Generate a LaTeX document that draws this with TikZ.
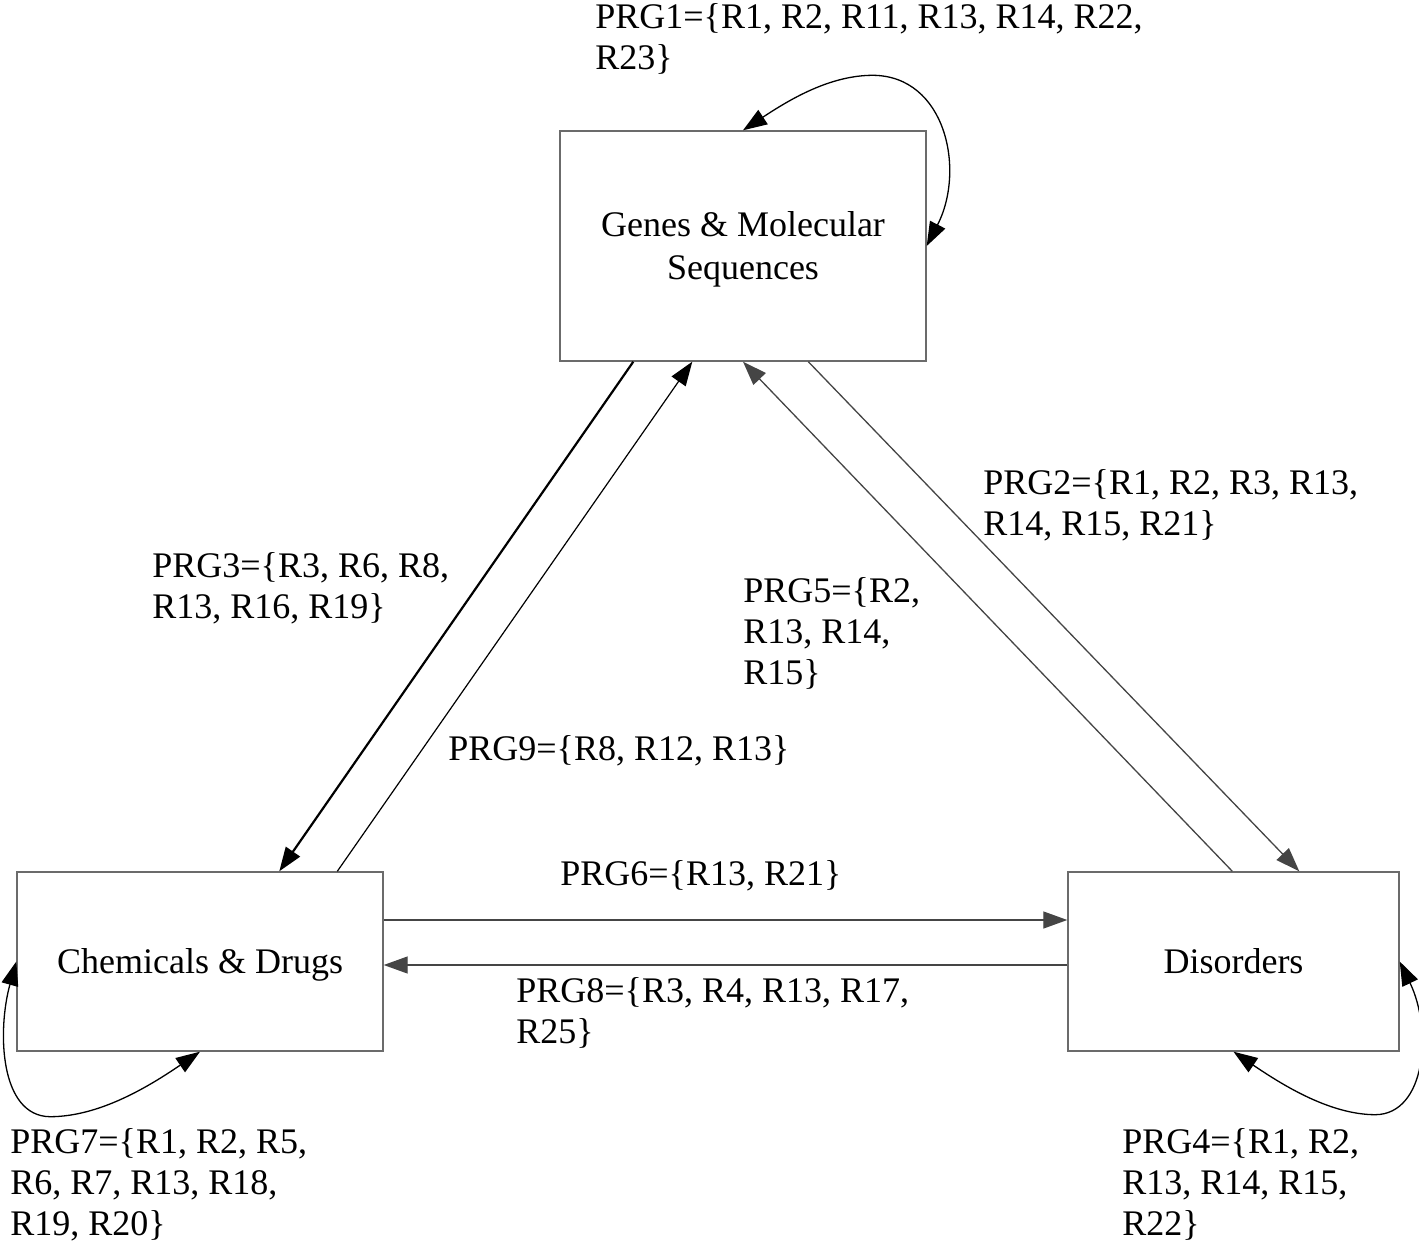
\documentclass[tikz,border=0pt]{standalone}
\usepackage{fontspec}
\setmainfont{Liberation Serif}
\usetikzlibrary{arrows.meta,calc}
\definecolor{boxgray}{gray}{0.42}
\definecolor{arrgray}{gray}{0.27}
\begin{document}
\begin{tikzpicture}[x=0.5pt,y=-0.5pt,
  font=\fontsize{18}{20.5}\selectfont,
  box/.style={draw=boxgray, line width=0.7pt, inner sep=0pt, align=center, text depth=0pt,
    font=\fontsize{18}{21.5}\selectfont},
  lbl/.style={anchor=north west, inner sep=0pt, align=left},
  tipend/.style={-{Triangle[length=12pt,width=8.5pt]}},
  tipboth/.style={{Triangle[length=12pt,width=8.5pt]}-{Triangle[length=12pt,width=8.5pt]}},
  grayarr/.style={tipend, draw=arrgray, fill=arrgray, line width=0.65pt},
  thickarr/.style={tipend, draw=black, line width=1.1pt},
  thinarr/.style={tipend, draw=black, line width=0.6pt},
  looparr/.style={tipboth, draw=black, line width=0.65pt}]
\useasboundingbox (0,0) rectangle (1419,1246);

% boxes
\node[box, minimum width=183pt, minimum height=115pt] (genes) at (743,246) {Genes \& Molecular\\Sequences};
\node[box, minimum width=183pt, minimum height=89.5pt] (chem) at (200,961.5) {Chemicals \& Drugs};
\node[box, minimum width=165.5pt, minimum height=89.5pt] (dis) at (1233.5,961.5) {Disorders};

% straight connectors
\draw[thickarr] ($(genes.south west)+(74,0)$) -- ($(chem.north west)+(263,0)$);
\draw[thinarr] ($(chem.north west)+(321,0)$) -- ($(genes.south west)+(133,0)$);
\draw[grayarr] ($(dis.north west)+(165,0)$) -- (genes.south);
\draw[grayarr] ($(genes.south west)+(249,0)$) -- ($(dis.north west)+(232,0)$);
\draw[grayarr] ($(chem.east)+(0,-41.5)$) -- ($(dis.west)+(0,-41.5)$);
\draw[grayarr] ($(dis.west)+(0,3.5)$) -- ($(chem.east)+(0,3.5)$);

% self loops
\draw[looparr] (genes.north) .. controls ($(genes.north)+(47,-31)$) and ($(genes.north)+(87,-55)$) .. ($(genes.north)+(130,-55)$)
  .. controls ($(genes.east)+(19,-170)$) and ($(genes.east)+(39,-76)$) .. (genes.east);
\draw[looparr] (chem.south) .. controls ($(chem.south)+(-50,34)$) and ($(chem.south)+(-100,65)$) .. ($(chem.south)+(-150,65)$)
  .. controls ($(chem.west)+(-17,154.5)$) and ($(chem.west)+(-19,68.5)$) .. (chem.west);
\draw[looparr] (dis.south) .. controls ($(dis.south)+(50,34)$) and ($(dis.south)+(97,63)$) .. ($(dis.south)+(142,63)$)
  .. controls ($(dis.east)+(26,152.5)$) and ($(dis.east)+(33,68.5)$) .. (dis.east);

% labels
\node[lbl] (l1) at (595,3) {PRG1=\{R1, R2, R11, R13, R14, R22,\\R23\}};
\node[lbl] (l2) at (983,469) {PRG2=\{R1, R2, R3, R13,\\R14, R15, R21\}};
\node[lbl] (l3) at (152,552) {PRG3=\{R3, R6, R8,\\R13, R16, R19\}};
\node[lbl] (l5) at (743,577) {PRG5=\{R2,\\R13, R14,\\R15\}};
\node[lbl] (l9) at (448,735) {PRG9=\{R8, R12, R13\}};
\node[lbl] (l6) at (560,860) {PRG6=\{R13, R21\}};
\node[lbl] (l8) at (516,977) {PRG8=\{R3, R4, R13, R17,\\R25\}};
\node[lbl] (l7) at (10,1128) {PRG7=\{R1, R2, R5,\\R6, R7, R13, R18,\\R19, R20\}};
\node[lbl] (l4) at (1122,1128) {PRG4=\{R1, R2,\\R13, R14, R15,\\R22\}};
\end{tikzpicture}
\end{document}
